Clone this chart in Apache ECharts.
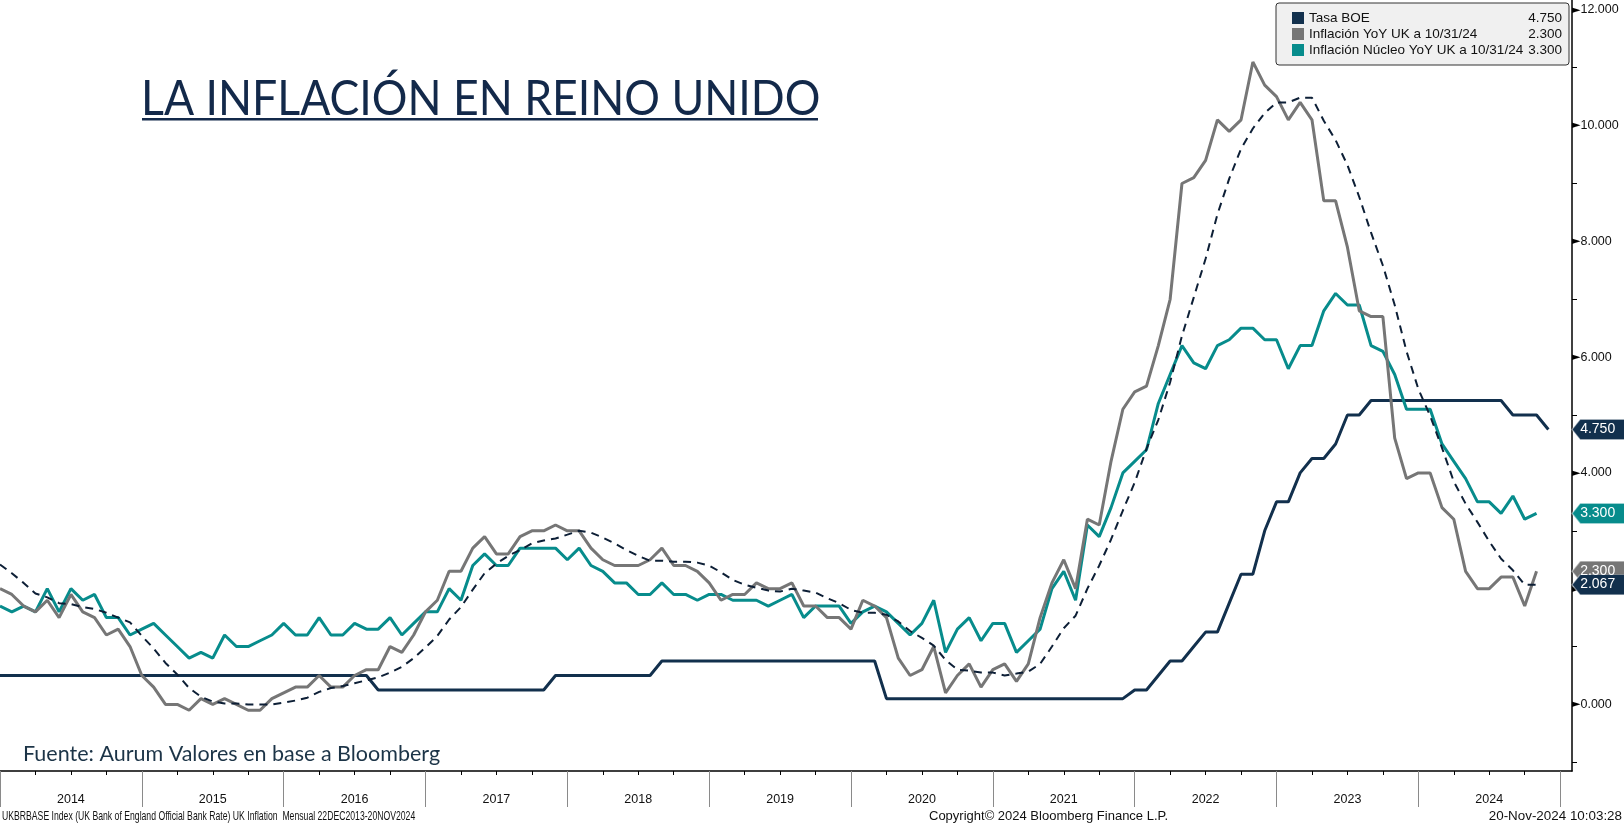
<!DOCTYPE html>
<html>
<head>
<meta charset="utf-8">
<title>La inflación en Reino Unido</title>
<script src="https://cdn.jsdelivr.net/npm/echarts@6/dist/echarts.min.js"></script>
<style>
  html, body { margin: 0; padding: 0; background: #fff; }
  #chart { width: 1624px; height: 825px; }
</style>
</head>
<body>
<div id="chart"></div>
<script>
// monthly points, Dec 2013 .. Nov 2024 (plus two empty months so the axis ends like the original)
const startYear = 2013
const startMonth = 12
const months = []
for (let i = 0; i < 134; i++) {
  const m = (startMonth - 1 + i) % 12 + 1
  const y = startYear + Math.floor((startMonth - 1 + i) / 12)
  months.push(y + '-' + String(m).padStart(2, '0'))
}

const yearLabels = ['2014', '2015', '2016', '2017', '2018', '2019', '2020', '2021', '2022', '2023', '2024']
const yLabelValues = [0, 2, 4, 6, 8, 10, 12]
const yTickValues = [-1, 1, 3, 5, 7, 9, 11]

// Tasa BOE (Dec 2013 .. Nov 2024)
const tasaBoe = [
  0.5, 0.5, 0.5, 0.5, 0.5, 0.5, 0.5, 0.5, 0.5, 0.5, 0.5, 0.5, 0.5,
  0.5, 0.5, 0.5, 0.5, 0.5, 0.5, 0.5, 0.5, 0.5, 0.5, 0.5, 0.5,
  0.5, 0.5, 0.5, 0.5, 0.5, 0.5, 0.5, 0.25, 0.25, 0.25, 0.25, 0.25,
  0.25, 0.25, 0.25, 0.25, 0.25, 0.25, 0.25, 0.25, 0.25, 0.25, 0.5, 0.5,
  0.5, 0.5, 0.5, 0.5, 0.5, 0.5, 0.5, 0.75, 0.75, 0.75, 0.75, 0.75,
  0.75, 0.75, 0.75, 0.75, 0.75, 0.75, 0.75, 0.75, 0.75, 0.75, 0.75, 0.75,
  0.75, 0.75, 0.1, 0.1, 0.1, 0.1, 0.1, 0.1, 0.1, 0.1, 0.1, 0.1,
  0.1, 0.1, 0.1, 0.1, 0.1, 0.1, 0.1, 0.1, 0.1, 0.1, 0.1, 0.25,
  0.25, 0.5, 0.75, 0.75, 1.0, 1.25, 1.25, 1.75, 2.25, 2.25, 3.0, 3.5,
  3.5, 4.0, 4.25, 4.25, 4.5, 5.0, 5.0, 5.25, 5.25, 5.25, 5.25, 5.25,
  5.25, 5.25, 5.25, 5.25, 5.25, 5.25, 5.25, 5.0, 5.0, 5.0, 4.75
]

// Inflación YoY UK (Dec 2013 .. Oct 2024)
const inflacion = [
  2.0,
  1.9, 1.7, 1.6, 1.8, 1.5, 1.9, 1.6, 1.5, 1.2, 1.3, 1.0, 0.5,
  0.3, 0.0, 0.0, -0.1, 0.1, 0.0, 0.1, 0.0, -0.1, -0.1, 0.1, 0.2,
  0.3, 0.3, 0.5, 0.3, 0.3, 0.5, 0.6, 0.6, 1.0, 0.9, 1.2, 1.6,
  1.8, 2.3, 2.3, 2.7, 2.9, 2.6, 2.6, 2.9, 3.0, 3.0, 3.1, 3.0,
  3.0, 2.7, 2.5, 2.4, 2.4, 2.4, 2.5, 2.7, 2.4, 2.4, 2.3, 2.1,
  1.8, 1.9, 1.9, 2.1, 2.0, 2.0, 2.1, 1.7, 1.7, 1.5, 1.5, 1.3,
  1.8, 1.7, 1.5, 0.8, 0.5, 0.6, 1.0, 0.2, 0.5, 0.7, 0.3, 0.6,
  0.7, 0.4, 0.7, 1.5, 2.1, 2.5, 2.0, 3.2, 3.1, 4.2, 5.1, 5.4,
  5.5, 6.2, 7.0, 9.0, 9.1, 9.4, 10.1, 9.9, 10.1, 11.1, 10.7, 10.5,
  10.1, 10.4, 10.1, 8.7, 8.7, 7.9, 6.8, 6.7, 6.7, 4.6, 3.9, 4.0,
  4.0, 3.4, 3.2, 2.3, 2.0, 2.0, 2.2, 2.2, 1.7, 2.3
]

// Inflación Núcleo YoY UK (Dec 2013 .. Oct 2024)
const inflacionNucleo = [
  1.7,
  1.6, 1.7, 1.6, 2.0, 1.6, 2.0, 1.8, 1.9, 1.5, 1.5, 1.2, 1.3,
  1.4, 1.2, 1.0, 0.8, 0.9, 0.8, 1.2, 1.0, 1.0, 1.1, 1.2, 1.4,
  1.2, 1.2, 1.5, 1.2, 1.2, 1.4, 1.3, 1.3, 1.5, 1.2, 1.4, 1.6,
  1.6, 2.0, 1.8, 2.4, 2.6, 2.4, 2.4, 2.7, 2.7, 2.7, 2.7, 2.5,
  2.7, 2.4, 2.3, 2.1, 2.1, 1.9, 1.9, 2.1, 1.9, 1.9, 1.8, 1.9,
  1.9, 1.8, 1.8, 1.8, 1.7, 1.8, 1.9, 1.5, 1.7, 1.7, 1.7, 1.4,
  1.6, 1.7, 1.6, 1.4, 1.2, 1.4, 1.8, 0.9, 1.3, 1.5, 1.1, 1.4,
  1.4, 0.9, 1.1, 1.3, 2.0, 2.3, 1.8, 3.1, 2.9, 3.4, 4.0, 4.2,
  4.4, 5.2, 5.7, 6.2, 5.9, 5.8, 6.2, 6.3, 6.5, 6.5, 6.3, 6.3,
  5.8, 6.2, 6.2, 6.8, 7.1, 6.9, 6.9, 6.2, 6.1, 5.7, 5.1, 5.1,
  5.1, 4.5, 4.2, 3.9, 3.5, 3.5, 3.3, 3.6, 3.2, 3.3
]

// línea punteada (promedio móvil de la inflación)
const promedioInflacion = [
  2.417,
  2.267, 2.1, 1.917, 1.85, 1.75, 1.733, 1.683, 1.65, 1.583, 1.5, 1.417, 1.183,
  0.967, 0.717, 0.517, 0.283, 0.133, 0.05, 0.017, 0.017, 0.0, 0.0, 0.0, 0.033,
  0.067, 0.117, 0.217, 0.283, 0.317, 0.367, 0.417, 0.467, 0.55, 0.65, 0.8, 0.983,
  1.183, 1.467, 1.683, 1.983, 2.267, 2.433, 2.567, 2.667, 2.783, 2.833, 2.867, 2.933,
  3.0, 2.967, 2.883, 2.783, 2.667, 2.567, 2.483, 2.483, 2.467, 2.467, 2.45, 2.4,
  2.283, 2.15, 2.067, 2.017, 1.967, 1.95, 2.0, 1.967, 1.933, 1.833, 1.75, 1.633,
  1.583, 1.583, 1.55, 1.433, 1.267, 1.15, 1.017, 0.767, 0.6, 0.583, 0.55, 0.55,
  0.5, 0.533, 0.567, 0.7, 1.0, 1.317, 1.533, 2.0, 2.4, 2.85, 3.35, 3.833,
  4.417, 4.917, 5.567, 6.367, 7.033, 7.7, 8.467, 9.083, 9.6, 9.95, 10.217, 10.4,
  10.4, 10.483, 10.483, 10.083, 9.75, 9.317, 8.767, 8.15, 7.583, 6.9, 6.1, 5.45,
  4.983, 4.433, 3.85, 3.467, 3.15, 2.817, 2.517, 2.317, 2.067, 2.067
]

const NAVY = '#12304d'
const GREY = '#767676'
const TEAL = '#078c8c'
const DASH = '#0d1f36'
const SANS_FONT = "'Liberation Sans', Arial, sans-serif"
const TITLE_FONT = "Lato, 'Noto Sans', sans-serif"

const legendValues = {
  'Tasa BOE': tasaBoe[tasaBoe.length - 1],
  'Inflación YoY UK a 10/31/24': inflacion[inflacion.length - 1],
  'Inflación Núcleo YoY UK a 10/31/24': inflacionNucleo[inflacionNucleo.length - 1]
}

// arrow-shaped value tag sitting on the right axis
function tag(value, color) {
  return {
    symbol: 'path://M0,10L8,0L60,0L60,20L8,20Z',
    symbolSize: [60, 20],
    symbolOffset: [30, 0],
    symbolKeepAspect: false,
    silent: true,
    itemStyle: { color: color, borderColor: 'rgba(255,255,255,0.45)', borderWidth: 1 },
    label: {
      show: true,
      position: [9, 10],
      align: 'left',
      verticalAlign: 'middle',
      color: '#fff',
      fontFamily: SANS_FONT,
      fontSize: 14,
      formatter: value.toFixed(3)
    },
    data: [{ coord: [months[months.length - 1], value] }]
  }
}

const chart = echarts.init(document.getElementById('chart'))

const option = {
  animation: false,
  backgroundColor: '#fff',
  grid: { left: 0, right: 52, top: 0, bottom: 54 },
  legend: {
    data: ['Tasa BOE', 'Inflación YoY UK a 10/31/24', 'Inflación Núcleo YoY UK a 10/31/24'],
    orient: 'vertical',
    right: 55,
    top: 3,
    icon: 'rect',
    itemWidth: 12,
    itemHeight: 12,
    itemGap: 2,
    padding: [8, 7, 8, 16],
    backgroundColor: '#f0f0f0',
    borderColor: '#333',
    borderWidth: 1,
    borderRadius: 3,
    selectedMode: false,
    formatter: name => `{n|${name}}{v|${legendValues[name].toFixed(3)}}`,
    textStyle: {
      color: '#111',
      fontFamily: SANS_FONT,
      fontSize: 13.5,
      lineHeight: 13,
      rich: {
        n: { width: 217, height: 13, lineHeight: 13, fontFamily: SANS_FONT, fontSize: 13.5, color: '#111' },
        v: { width: 36, height: 13, lineHeight: 13, align: 'right', fontFamily: SANS_FONT, fontSize: 13.5, color: '#111' }
      }
    }
  },
  xAxis: [
    {
      type: 'category',
      data: months,
      boundaryGap: false,
      position: 'bottom',
      axisLine: { show: true, onZero: false, lineStyle: { color: '#000', width: 1.5 } },
      axisTick: { show: true, interval: idx => idx % 3 === 0, length: 4, lineStyle: { color: '#000' } },
      axisLabel: {
        interval: idx => idx % 12 === 6,
        formatter: (val, idx) => yearLabels[(idx - 6) / 12] || '',
        margin: 22,
        color: '#111',
        fontFamily: SANS_FONT,
        fontSize: 12.5
      },
      splitLine: { show: false }
    },
    {
      type: 'category',
      data: months,
      boundaryGap: false,
      position: 'bottom',
      offset: 0,
      axisLine: { show: false, onZero: false },
      axisTick: { show: true, interval: idx => idx % 12 === 0, length: 36, lineStyle: { color: '#8a8a8a', width: 1 } },
      axisLabel: { show: false },
      splitLine: { show: false }
    }
  ],
  yAxis: {
    type: 'value',
    position: 'right',
    min: -1.15,
    max: 12.17,
    splitLine: { show: false },
    axisLine: { show: true, lineStyle: { color: '#000', width: 1.5 } },
    axisTick: { show: true, customValues: yTickValues, length: 5, lineStyle: { color: '#000' } },
    axisLabel: {
      customValues: yLabelValues,
      margin: 0,
      formatter: v => '{t|►}' + v.toFixed(3),
      color: '#111',
      fontFamily: SANS_FONT,
      fontSize: 12.5,
      rich: {
        t: { fontSize: 11, color: '#000', fontFamily: "'DejaVu Sans', sans-serif" }
      }
    }
  },
  series: [
    {
      name: 'Tasa BOE',
      type: 'line',
      data: tasaBoe,
      symbol: 'none',
      lineStyle: { color: NAVY, width: 3 },
      itemStyle: { color: NAVY },
      z: 3,
      markPoint: tag(tasaBoe[tasaBoe.length - 1], NAVY)
    },
    {
      name: 'Inflación Núcleo YoY UK a 10/31/24',
      type: 'line',
      data: inflacionNucleo,
      symbol: 'none',
      lineStyle: { color: TEAL, width: 3 },
      itemStyle: { color: TEAL },
      z: 3,
      markPoint: tag(inflacionNucleo[inflacionNucleo.length - 1], TEAL)
    },
    {
      name: 'Inflación YoY UK a 10/31/24',
      type: 'line',
      data: inflacion,
      symbol: 'none',
      lineStyle: { color: GREY, width: 3 },
      itemStyle: { color: GREY },
      z: 4,
      markPoint: tag(inflacion[inflacion.length - 1], GREY)
    },
    {
      name: 'Promedio',
      type: 'line',
      data: promedioInflacion,
      symbol: 'none',
      lineStyle: { color: DASH, width: 2, type: [8, 6] },
      itemStyle: { color: DASH },
      z: 5,
      markPoint: tag(promedioInflacion[promedioInflacion.length - 1], NAVY)
    }
  ],
  graphic: [
    {
      type: 'text',
      x: 141,
      y: 75,
      scaleX: 0.91,
      style: { text: 'LA INFLACIÓN EN REINO UNIDO', x: 0, y: 0, align: 'left', verticalAlign: 'top', fill: '#13294a', font: '49px ' + TITLE_FONT }
    },
    {
      type: 'rect',
      left: 142,
      top: 118,
      shape: { width: 676, height: 2.5 },
      style: { fill: '#13294a' }
    },
    {
      type: 'text',
      left: 23,
      top: 743,
      style: { text: 'Fuente: Aurum Valores en base a Bloomberg', fill: '#1c3447', font: '21.5px ' + TITLE_FONT }
    },
    // small expand box next to the second legend entry
    {
      type: 'group',
      x: 1279,
      y: 32,
      children: [
        { type: 'rect', shape: { x: 0, y: 0, width: 6, height: 6 }, style: { fill: '#fff', stroke: '#888', lineWidth: 1 } },
        { type: 'line', shape: { x1: 1.5, y1: 3, x2: 4.5, y2: 3 }, style: { stroke: '#666', lineWidth: 1 } },
        { type: 'line', shape: { x1: 3, y1: 1.5, x2: 3, y2: 4.5 }, style: { stroke: '#666', lineWidth: 1 } }
      ]
    },
    {
      type: 'text',
      x: 2,
      y: 816,
      scaleX: 0.666,
      style: { text: 'UKBRBASE Index (UK Bank of England Official Bank Rate) UK Inflation  Mensual 22DEC2013-20NOV2024', x: 0, y: 0, align: 'left', verticalAlign: 'middle', fill: '#111', font: '13px ' + SANS_FONT }
    },
    {
      type: 'text',
      x: 929,
      y: 816,
      style: { text: 'Copyright© 2024 Bloomberg Finance L.P.', x: 0, y: 0, align: 'left', verticalAlign: 'middle', fill: '#111', font: '13px ' + SANS_FONT }
    },
    {
      type: 'text',
      x: 1622,
      y: 816,
      scaleX: 1.03,
      style: { text: '20-Nov-2024 10:03:28', x: 0, y: 0, align: 'right', verticalAlign: 'middle', fill: '#111', font: '13px ' + SANS_FONT }
    }
  ]
}

chart.setOption(option)
</script>
</body>
</html>
